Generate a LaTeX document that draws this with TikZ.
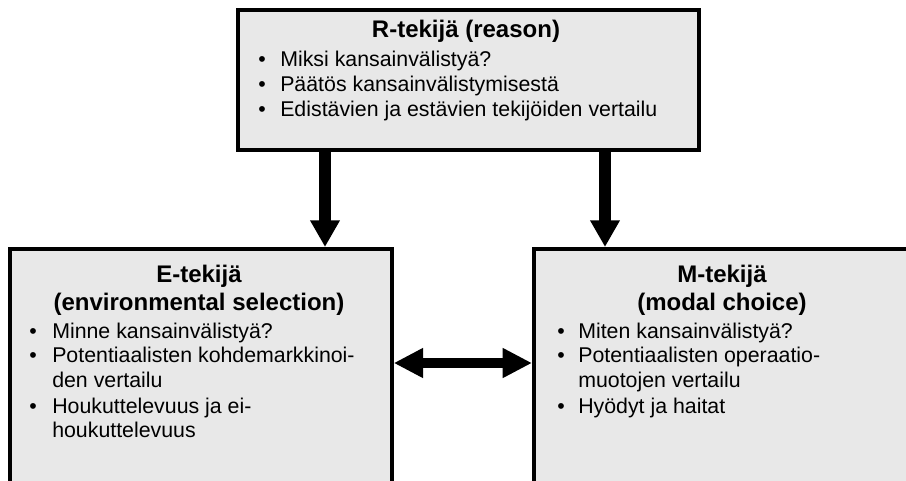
\documentclass[tikz,border=0pt]{standalone}
\usepackage{fontspec}
\setmainfont{Liberation Sans}
\usetikzlibrary{arrows.meta}
\definecolor{boxfill}{RGB}{232,232,232}
\begin{document}
\begin{tikzpicture}[x=0.75pt,y=-0.75pt,
  panel/.style={draw=black, line width=2.8pt, fill=boxfill, inner sep=0pt,
                anchor=north west},
  ttl/.style={font=\fontsize{18}{21.6}\selectfont\bfseries, anchor=base, inner sep=0pt},
  itm/.style={font=\fontsize{16}{19.2}\selectfont, anchor=base west, inner sep=0pt},
  bul/.style={font=\fontsize{16}{19.2}\selectfont, anchor=base, inner sep=0pt},
  bigarrow/.style={line width=9.5pt, -{Triangle[width=21pt,length=20pt]}},
  dblarrow/.style={line width=8pt,
                   {Triangle[width=21pt,length=22pt]}-{Triangle[width=21pt,length=22pt]}},
  ]
\useasboundingbox (0,0) rectangle (906,481);
\clip (0,0) rectangle (906,481);

% the three factor panels
\node[panel, minimum width=345.75pt, minimum height=105pt] (rtek) at (236,8) {};
\node[panel, minimum width=286.5pt, minimum height=204.75pt] (etek) at (8,247) {};
\node[panel, minimum width=286.5pt, minimum height=204.75pt] (mtek) at (532,247) {};

% arrow positions
\coordinate (ax1) at (325,0);
\coordinate (ax2) at (605,0);
\coordinate (ay) at (0,363);

\draw[bigarrow] (ax1 |- rtek.south) -- (ax1 |- etek.north);
\draw[bigarrow] (ax2 |- rtek.south) -- (ax2 |- mtek.north);
\draw[dblarrow] (etek.east |- ay) -- (mtek.west |- ay);

% R-factor
\node[ttl] (rt) at (466,38) {R-tekijä (reason)};
\node[bul] (rb1) at (262,67) {•};
\node[itm] (ri1) at (280,67) {Miksi kansainvälistyä?};
\node[bul] (rb2) at (262,92) {•};
\node[itm] (ri2) at (280,92) {Päätös kansainvälistymisestä};
\node[bul] (rb3) at (262,117) {•};
\node[itm] (ri3) at (280,117) {Edistävien ja estävien tekijöiden vertailu};

% E-factor
\node[ttl] (et1) at (199,282) {E-tekijä};
\node[ttl] (et2) at (199,310) {(environmental selection)};
\node[bul] (eb1) at (33,338) {•};
\node[itm] (ei1) at (52,338) {Minne kansainvälistyä?};
\node[bul] (eb2) at (33,362) {•};
\node[itm] (ei2) at (52,362) {Potentiaalisten kohdemarkkinoi-};
\node[itm] (ei3) at (52,387) {den vertailu};
\node[bul] (eb3) at (33,413) {•};
\node[itm] (ei4) at (52,413) {Houkuttelevuus ja ei-};
\node[itm] (ei5) at (52,437) {houkuttelevuus};

% M-factor
\node[ttl] (mt1) at (722,282) {M-tekijä};
\node[ttl] (mt2) at (722,310) {(modal choice)};
\node[bul] (mb1) at (561,338) {•};
\node[itm] (mi1) at (578,338) {Miten kansainvälistyä?};
\node[bul] (mb2) at (561,362) {•};
\node[itm] (mi2) at (578,362) {Potentiaalisten operaatio-};
\node[itm] (mi3) at (578,387) {muotojen vertailu};
\node[bul] (mb3) at (561,413) {•};
\node[itm] (mi4) at (578,413) {Hyödyt ja haitat};
\end{tikzpicture}
\end{document}
